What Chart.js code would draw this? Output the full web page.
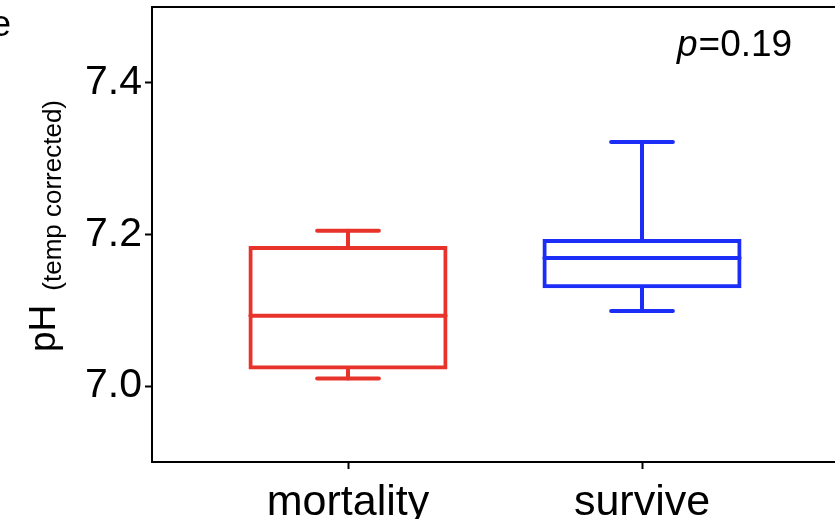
<!DOCTYPE html>
<html>
<head>
<meta charset="utf-8">
<script src="https://cdn.jsdelivr.net/npm/chart.js@4.4.1/dist/chart.umd.min.js"></script>
<style>
  html, body { margin: 0; padding: 0; background: #fff; overflow: hidden; }
  canvas { display: block; }
</style>
</head>
<body>
<canvas id="chart" width="840" height="519"></canvas>
<script>
// box plot values
const groups = ["mortality", "survive"];
const groupPos = [1, 2];
const whiskerLow = [7.010, 7.099];
const q1 = [7.022, 7.129];
const median = [7.093, 7.169];
const q3 = [7.185, 7.194];
const whiskerHigh = [7.205, 7.322];
const boxColors = ["#E8332A", "#1B2DF7"];
const yTicks = [7.0, 7.2, 7.4];
const pValue = "0.19";

const FONT = "'Liberation Sans', Arial, sans-serif";

// median line, whiskers and caps, placed with the chart's scales
const boxExtras = {
    id: "boxExtras",
    afterDatasetsDraw(chart) {
        const ctx = chart.ctx;
        const xs = chart.scales.x;
        const ys = chart.scales.y;
        const halfBox = 0.332;
        const halfCap = 0.105;

        ctx.save();
        ctx.lineWidth = 4;
        ctx.lineCap = "round";
        for (let i = 0; i < groups.length; i++) {
            const pos = groupPos[i];
            const xc = xs.getPixelForValue(pos);
            ctx.strokeStyle = boxColors[i];

            ctx.beginPath();
            ctx.moveTo(xs.getPixelForValue(pos - halfBox), ys.getPixelForValue(median[i]));
            ctx.lineTo(xs.getPixelForValue(pos + halfBox), ys.getPixelForValue(median[i]));
            ctx.stroke();

            ctx.beginPath();
            ctx.moveTo(xc, ys.getPixelForValue(q3[i]));
            ctx.lineTo(xc, ys.getPixelForValue(whiskerHigh[i]));
            ctx.moveTo(xc, ys.getPixelForValue(q1[i]));
            ctx.lineTo(xc, ys.getPixelForValue(whiskerLow[i]));
            ctx.stroke();

            for (const v of [whiskerHigh[i], whiskerLow[i]]) {
                ctx.beginPath();
                ctx.moveTo(xs.getPixelForValue(pos - halfCap), ys.getPixelForValue(v));
                ctx.lineTo(xs.getPixelForValue(pos + halfCap), ys.getPixelForValue(v));
                ctx.stroke();
            }
        }
        ctx.restore();
    }
};

// frame top line, axis title with subscript, p value, panel letter
const annotations = {
    id: "annotations",
    afterDraw(chart) {
        const ctx = chart.ctx;
        const area = chart.chartArea;
        ctx.save();

        ctx.strokeStyle = "#000";
        ctx.lineWidth = 2;
        ctx.beginPath();
        ctx.moveTo(area.left - 1, area.top);
        ctx.lineTo(area.right, area.top);
        ctx.lineTo(area.right, area.bottom);
        ctx.stroke();

        ctx.fillStyle = "#000";
        ctx.textBaseline = "alphabetic";
        ctx.textAlign = "left";

        // p=0.19
        ctx.font = "italic 37px " + FONT;
        ctx.fillText("p", 677, 56);
        const pw = ctx.measureText("p").width;
        ctx.font = "37px " + FONT;
        ctx.fillText("=" + pValue, 677 + pw + 1, 56);

        // panel letter
        ctx.font = "36px " + FONT;
        ctx.fillText("e", -9, 36);

        // y title: pH (temp corrected)
        ctx.translate(55, 352);
        ctx.rotate(-Math.PI / 2);
        ctx.font = "37px " + FONT;
        ctx.fillText("pH", 0, 0);
        const hw = ctx.measureText("pH").width;
        ctx.font = "26px " + FONT;
        ctx.fillText("(temp corrected)", hw + 14, 6);

        ctx.restore();
    }
};

new Chart(document.getElementById("chart"), {
    type: "bar",
    data: {
        datasets: [{
            data: groupPos.map((x, i) => ({ x: x, y: [q1[i], q3[i]] })),
            backgroundColor: "rgba(0,0,0,0)",
            borderColor: boxColors,
            borderWidth: 4,
            borderSkipped: false,
            inflateAmount: 0,
            barPercentage: 0.677,
            categoryPercentage: 1
        }]
    },
    options: {
        responsive: false,
        animation: false,
        layout: { padding: { top: 7, right: 2, left: 0, bottom: 0 } },
        plugins: {
            legend: { display: false },
            tooltip: { enabled: false }
        },
        scales: {
            x: {
                type: "linear",
                min: 1 / 3,
                max: 8 / 3,
                offset: false,
                grid: { drawOnChartArea: false, offset: false, tickLength: 7, tickWidth: 2, tickColor: "#000" },
                border: { display: true, color: "#000", width: 2 },
                afterBuildTicks: (scale) => {
                    scale.ticks = groupPos.map(v => ({ value: v }));
                },
                afterFit: (scale) => {
                    scale.height = 57;
                    scale.paddingLeft = 0;
                    scale.paddingRight = 0;
                },
                ticks: {
                    color: "#000",
                    font: { family: FONT, size: 43 },
                    padding: 8,
                    maxRotation: 0,
                    callback: (v) => groups[groupPos.indexOf(v)]
                }
            },
            y: {
                min: 6.9,
                max: 7.5,
                grid: { drawOnChartArea: false, tickLength: 7, tickWidth: 2, tickColor: "#000" },
                border: { display: true, color: "#000", width: 2 },
                afterBuildTicks: (scale) => {
                    scale.ticks = yTicks.map(v => ({ value: v }));
                },
                afterFit: (scale) => {
                    scale.width = 152;
                    scale.paddingTop = 0;
                    scale.paddingBottom = 0;
                },
                ticks: {
                    color: "#000",
                    font: { family: FONT, size: 41 },
                    padding: 3,
                    callback: (v) => v.toFixed(1)
                }
            }
        }
    },
    plugins: [boxExtras, annotations]
});
</script>
</body>
</html>
